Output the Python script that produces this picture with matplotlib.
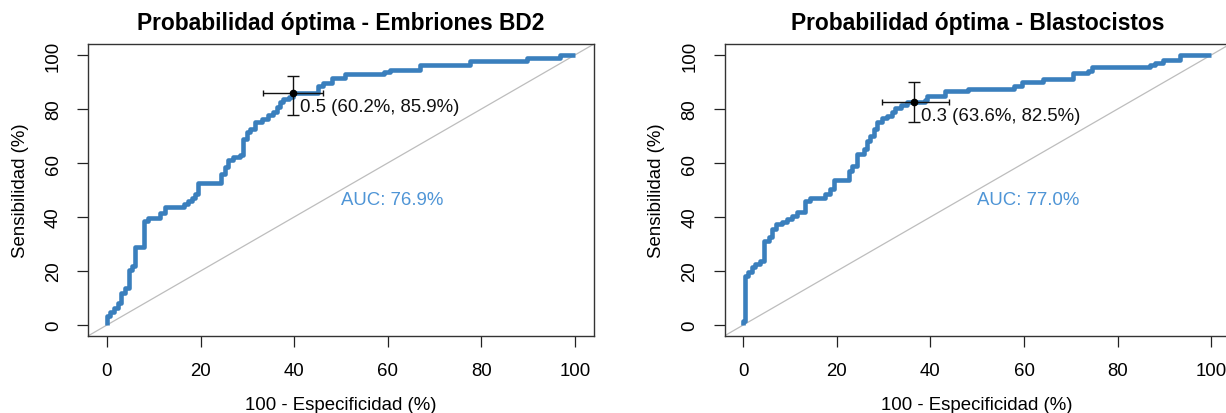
import matplotlib
matplotlib.use("Agg")
import matplotlib.pyplot as plt

plt.rcParams['font.family'] = ['Liberation Sans', 'DejaVu Sans']

# ROC curves as (100 - especificidad, sensibilidad) in %, staircase corners
bd2_fpr = [0, 0, 0.6, 0.6, 1.6, 1.6, 2.3, 2.3, 3.0, 3.0, 3.8, 3.8, 4.6, 4.6,
           5.3, 5.3, 6.0, 6.0, 7.9, 7.9, 8.7, 8.7, 11.3, 11.3, 12.3, 12.3,
           16.5, 16.5, 17.4, 17.4, 18.1, 18.1, 18.8, 18.8, 19.4, 19.4,
           24.3, 24.3, 25.2, 25.2, 25.9, 25.9, 27.0, 27.0, 28.4, 28.4,
           29.1, 29.1, 29.9, 29.9, 30.6, 30.6, 31.6, 31.6, 33.1, 33.1,
           34.5, 34.5, 35.5, 35.5, 36.3, 36.3, 37.0, 37.0, 37.7, 37.7,
           38.8, 38.8, 39.8, 39.8, 45.2, 45.2, 46.2, 46.2, 48.1, 48.1,
           50.9, 50.9, 59.1, 59.1, 60.5, 60.5, 66.9, 66.9, 77.6, 77.6,
           89.7, 89.7, 96.8, 96.8, 100]
bd2_sens = [0, 3.3, 3.3, 4.8, 4.8, 6.3, 6.3, 8.2, 8.2, 11.8, 11.8, 13.8, 13.8, 20.3,
            20.3, 22.0, 22.0, 29.0, 29.0, 38.6, 38.6, 39.8, 39.8, 41.6, 41.6, 43.6,
            43.6, 44.8, 44.8, 46.0, 46.0, 47.2, 47.2, 48.5, 48.5, 52.6,
            52.6, 56.0, 56.0, 58.5, 58.5, 61.0, 61.0, 62.2, 62.2, 62.8,
            62.8, 69.0, 69.0, 71.5, 71.5, 72.7, 72.7, 75.2, 75.2, 76.4,
            76.4, 77.7, 77.7, 78.9, 78.9, 80.8, 80.8, 82.6, 82.6, 83.8,
            83.8, 84.4, 84.4, 85.9, 85.9, 88.6, 88.6, 89.8, 89.8, 91.4,
            91.4, 93.0, 93.0, 93.8, 93.8, 94.6, 94.6, 96.3, 96.3, 97.6,
            97.6, 98.8, 98.8, 100, 100]

blasto_fpr = [0, 0, 0.3, 0.3, 1.1, 1.1, 1.9, 1.9, 2.6, 2.6, 3.6, 3.6, 4.5, 4.5,
              5.5, 5.5, 6.2, 6.2, 6.9, 6.9, 8.2, 8.2, 9.3, 9.3, 10.4, 10.4,
              11.4, 11.4, 13.2, 13.2, 14.3, 14.3, 17.5, 17.5, 18.6, 18.6,
              19.3, 19.3, 22.5, 22.5, 23.2, 23.2, 24.2, 24.2, 25.7, 25.7,
              26.4, 26.4, 27.1, 27.1, 27.9, 27.9, 28.6, 28.6, 29.7, 29.7,
              30.7, 30.7, 31.8, 31.8, 32.5, 32.5, 33.6, 33.6, 35.0, 35.0,
              36.4, 38.9, 38.9, 39.3, 39.3, 43.2, 43.2, 48.0, 48.0, 57.9,
              57.9, 59.6, 59.6, 64.0, 64.0, 70.4, 70.4, 73.6, 73.6, 74.6,
              74.6, 86.9, 86.9, 87.9, 87.9, 89.6, 89.6, 93.4, 93.4, 100]
blasto_sens = [0, 1.5, 1.5, 18.3, 18.3, 19.6, 19.6, 21.5, 21.5, 22.6, 22.6, 23.6, 23.6, 31.0,
               31.0, 32.5, 32.5, 35.5, 35.5, 37.4, 37.4, 38.3, 38.3, 39.4, 39.4, 40.5,
               40.5, 41.7, 41.7, 46.0, 46.0, 47.2, 47.2, 48.5, 48.5, 50.4,
               50.4, 53.8, 53.8, 57.2, 57.2, 59.0, 59.0, 63.3, 63.3, 65.2,
               65.2, 68.3, 68.3, 70.1, 70.1, 72.6, 72.6, 75.1, 75.1, 76.5,
               76.5, 77.5, 77.5, 78.8, 78.8, 80.2, 80.2, 81.5, 81.5, 82.5,
               82.5, 82.5, 83.3, 83.3, 84.9, 84.9, 86.6, 86.6, 87.3, 87.3,
               88.7, 88.7, 90.0, 90.0, 91.0, 91.0, 93.5, 93.5, 94.2, 94.2,
               95.4, 95.4, 96.2, 96.2, 97.2, 97.2, 98.3, 98.3, 100, 100]

titles = ["Probabilidad óptima - Embriones BD2", "Probabilidad óptima - Blastocistos"]
thresholds = [0.5, 0.3]
best_spec = [60.2, 63.6]
best_sens = [85.9, 82.5]
# confidence intervals (100 - spec range, sens range)
ci_fpr = [(33.3, 46.1), (29.7, 43.9)]
ci_sens = [(77.8, 92.3), (75.1, 90.1)]
auc = [76.9, 77.0]

ticks = [0, 20, 40, 60, 80, 100]
line_col = '#3a7fbd'
auc_col = '#4f95d6'

fig = plt.figure(figsize=(12.26, 4.14), dpi=100)
lefts = [0.0720, 0.5910]
curves = [(bd2_fpr, bd2_sens), (blasto_fpr, blasto_sens)]

for i in range(2):
    ax = fig.add_axes([lefts[i], 0.1865, 0.4122, 0.7043])
    ax.set_xlim(-4, 104)
    ax.set_ylim(-4, 104)

    ax.axline((0, 0), slope=1, color='#bdbdbd', lw=0.9, zorder=1)
    fx, sy = curves[i]
    ax.plot(fx, sy, color=line_col, lw=3.3, solid_capstyle='butt', zorder=2)

    px = 100 - best_spec[i]
    py = best_sens[i]
    lo, hi = ci_fpr[i]
    ax.errorbar(px, py, xerr=[[px - lo], [hi - px]], fmt='none', ecolor='#111111',
                elinewidth=1.0, capsize=2.0, capthick=1.0, zorder=3)
    lo, hi = ci_sens[i]
    ax.errorbar(px, py, yerr=[[py - lo], [hi - py]], fmt='none', ecolor='#111111',
                elinewidth=1.0, capsize=4.0, capthick=1.0, zorder=3)
    ax.plot(px, py, 'o', color='black', ms=4.5, zorder=4)
    ax.text(px + 1.5, py - 5, f"{thresholds[i]} ({best_spec[i]:.1f}%, {best_sens[i]:.1f}%)",
            fontsize=13.4, color='#111111', ha='left', va='center')
    ax.text(50, 46.3, f"AUC: {auc[i]:.1f}%", fontsize=13.4, color=auc_col,
            ha='left', va='center')

    ax.set_xticks(ticks)
    ax.set_yticks(ticks)
    ax.tick_params(axis='both', length=7.9, width=0.9, labelsize=13.4, pad=11,
                   color='#222222')
    ax.tick_params(axis='y', labelrotation=90)
    for lab in ax.get_yticklabels():
        lab.set_va('center')
    for sp in ax.spines.values():
        sp.set_color('#333333')
        sp.set_linewidth(1.0)

    ax.set_xlabel("100 - Especificidad (%)", fontsize=13.4)
    ax.xaxis.label.set_va('center')
    ax.xaxis.set_label_coords(0.5, -0.2373)
    ax.set_ylabel("Sensibilidad (%)", fontsize=13.4)
    ax.yaxis.label.set_va('center')
    ax.yaxis.set_label_coords(-0.135, 0.5)
    ax.text(0.5, 1.076, titles[i], transform=ax.transAxes, ha='center', va='center',
            fontsize=16.4, fontweight='bold')

fig.savefig('out.png', dpi=100)
